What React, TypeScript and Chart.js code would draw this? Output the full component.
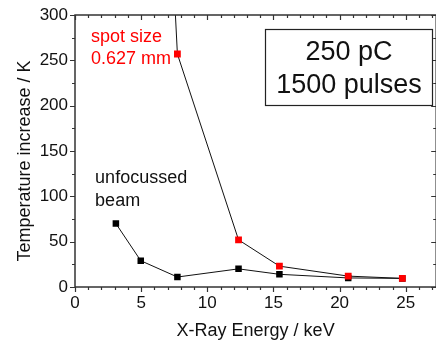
import React, { useEffect, useRef } from "react";
import { Chart, registerables } from "chart.js";

Chart.register(...registerables);

// ---- data ----
const spotEnergy = [5.0, 7.74, 12.36, 15.45, 20.65, 24.74];
const spotTemp = [1040, 257, 52, 23, 12, 9.5];
const beamEnergy = [3.09, 4.97, 7.74, 12.36, 15.45, 20.65, 24.74];
const beamTemp = [70, 29, 11, 20, 14, 10, 9.5];

const xTickStep = 5;
const yTickStep = 50;
const xMin = 0;
const xMax = 27.3;
const yMin = 0;
const yMax = 300;

const xTitle = "X-Ray Energy / keV";
const yTitle = "Temperature increase / K";
const spotLabel = ["spot size", "0.627 mm"];
const beamLabel = ["unfocussed", "beam"];
const boxLabel = ["250 pC", "1500 pulses"];

const FONT = "'Liberation Sans', Arial, Helvetica, sans-serif";

const framePlugin = {
  id: "frame",
  afterDraw(chart: any) {
    const { ctx, chartArea } = chart;
    const xs = chart.scales.x;
    const ys = chart.scales.y;
    const { left, right, top, bottom } = chartArea;
    ctx.save();
    ctx.strokeStyle = "#333";
    ctx.lineWidth = 1.5;
    ctx.strokeRect(left, top, right - left, bottom - top);
    ctx.lineWidth = 1.2;
    ctx.beginPath();
    for (let v = 0; v <= Math.floor(xMax); v++) {
      const px = Math.round(xs.getPixelForValue(v)) + 0.5;
      const len = v % 5 === 0 ? 5 : 3;
      ctx.moveTo(px, bottom);
      ctx.lineTo(px, bottom + len);
      ctx.moveTo(px, top);
      ctx.lineTo(px, top + len);
    }
    for (let v = 0; v <= yMax; v += 25) {
      const py = Math.round(ys.getPixelForValue(v)) + 0.5;
      const len = v % 50 === 0 ? 5 : 3;
      ctx.moveTo(left, py);
      ctx.lineTo(left - len, py);
      ctx.moveTo(right, py);
      ctx.lineTo(right - len, py);
    }
    ctx.stroke();

    // axis titles
    ctx.fillStyle = "#111";
    ctx.font = `18px ${FONT}`;
    ctx.textAlign = "center";
    ctx.textBaseline = "alphabetic";
    ctx.fillText(xTitle, (left + right) / 2, 336);
    ctx.save();
    ctx.translate(30, 161);
    ctx.rotate(-Math.PI / 2);
    ctx.fillText(yTitle, 0, 0);
    ctx.restore();

    // annotations
    ctx.textAlign = "left";
    ctx.fillStyle = "#ff0000";
    ctx.fillText(spotLabel[0], xs.getPixelForValue(1.2), ys.getPixelForValue(270));
    ctx.fillText(spotLabel[1], xs.getPixelForValue(1.2), ys.getPixelForValue(246.5));
    ctx.fillStyle = "#111";
    ctx.fillText(beamLabel[0], xs.getPixelForValue(1.52), ys.getPixelForValue(114.5));
    ctx.fillText(beamLabel[1], xs.getPixelForValue(1.52), ys.getPixelForValue(89.5));

    // box
    const bx1 = 265.5, by1 = 29.5, bx2 = 432.5, by2 = 105.5;
    ctx.fillStyle = "#fff";
    ctx.fillRect(bx1, by1, bx2 - bx1, by2 - by1);
    ctx.strokeStyle = "#222";
    ctx.lineWidth = 1.2;
    ctx.strokeRect(bx1, by1, bx2 - bx1, by2 - by1);
    ctx.fillStyle = "#111";
    ctx.font = `27px ${FONT}`;
    ctx.textAlign = "center";
    ctx.fillText(boxLabel[0], (bx1 + bx2) / 2, 60);
    ctx.fillText(boxLabel[1], (bx1 + bx2) / 2, 92.5);
    ctx.restore();
  },
};

export default function App() {
  const ref = useRef<HTMLCanvasElement>(null);
  useEffect(() => {
    if (!ref.current) return;
    const chart = new Chart(ref.current, {
      type: "line",
      data: {
        datasets: [
          {
            label: "spot size 0.627 mm",
            data: spotEnergy.map((x, i) => ({ x, y: spotTemp[i] })),
            borderColor: "#111",
            borderWidth: 1,
            pointStyle: "rect",
            pointRadius: 4.8,
            pointBackgroundColor: "#ff0000",
            pointBorderColor: "#ff0000",
            pointBorderWidth: 0,
            tension: 0,
          },
          {
            label: "unfocussed beam",
            data: beamEnergy.map((x, i) => ({ x, y: beamTemp[i] })),
            borderColor: "#111",
            borderWidth: 1,
            pointStyle: "rect",
            pointRadius: 4.6,
            pointBackgroundColor: "#000",
            pointBorderColor: "#000",
            pointBorderWidth: 0,
            tension: 0,
          },
        ],
      },
      options: {
        responsive: false,
        animation: false,
        layout: { padding: { top: 15, right: 0, left: 0, bottom: 0 } },
        plugins: { legend: { display: false }, tooltip: { enabled: false } },
        scales: {
          x: {
            type: "linear",
            min: xMin,
            max: xMax,
            grid: { display: false, drawTicks: false },
            border: { display: false },
            ticks: {
              stepSize: xTickStep,
              includeBounds: false,
              color: "#111",
              font: { family: FONT, size: 17 },
              padding: 6,
              maxRotation: 0,
            },
            afterFit: (s: any) => {
              s.height = 58;
              s.paddingLeft = 0;
              s.paddingRight = 0;
            },
          },
          y: {
            type: "linear",
            min: yMin,
            max: yMax,
            grid: { display: false, drawTicks: false },
            border: { display: false },
            ticks: {
              stepSize: yTickStep,
              includeBounds: false,
              color: "#111",
              font: { family: FONT, size: 17 },
              padding: 7,
            },
            afterFit: (s: any) => {
              s.width = 75;
              s.paddingTop = 0;
              s.paddingBottom = 0;
            },
          },
        },
      },
      plugins: [framePlugin],
    });
    return () => chart.destroy();
  }, []);
  return (
    <div style={{ position: "fixed", left: 0, top: 0, width: 436, height: 345, overflow: "hidden", background: "#fff" }}>
      <canvas ref={ref} width={441} height={345} style={{ display: "block" }} />
    </div>
  );
}
